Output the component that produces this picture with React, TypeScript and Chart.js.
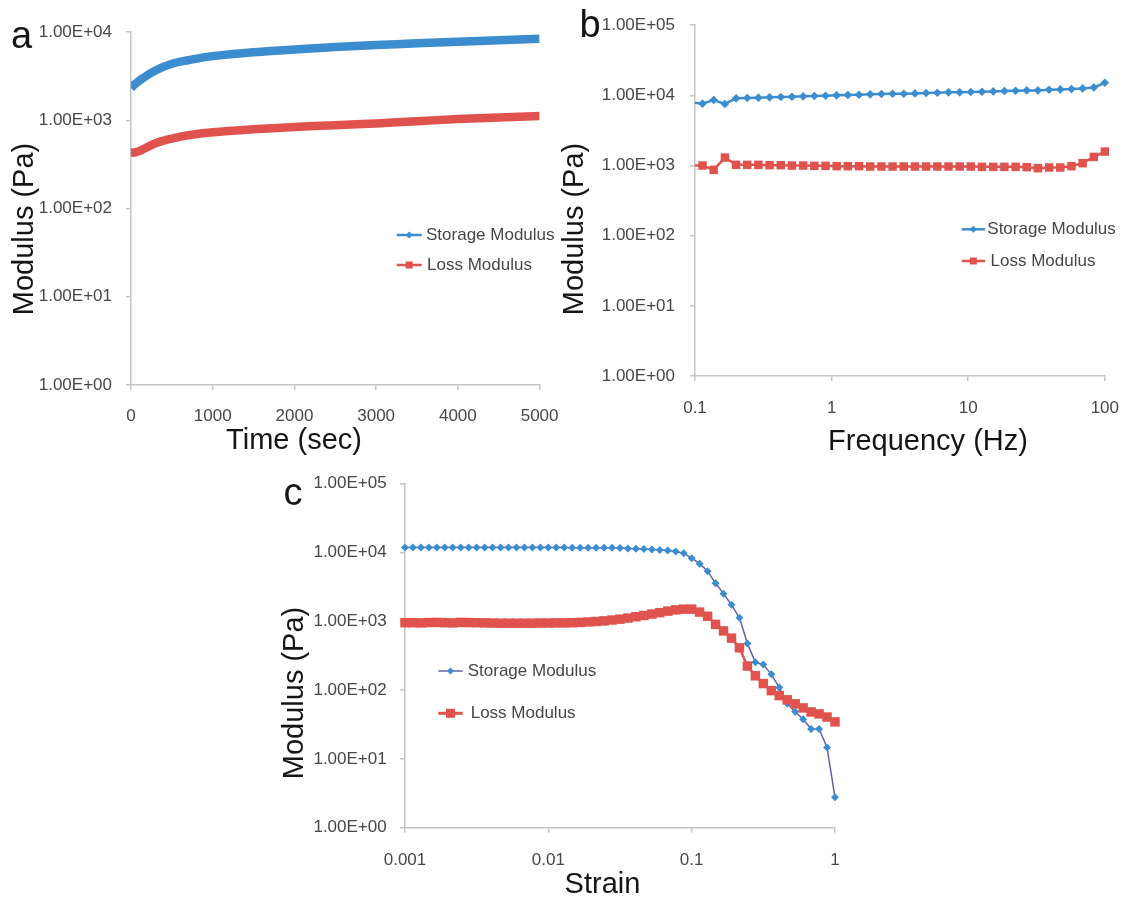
import React, { useEffect, useRef } from 'react';
import { Chart, registerables } from 'chart.js';

Chart.register(...registerables);

// ---------------- data ----------------
// (a) time sweep
const TIME_A = [0, 50, 150, 300, 500, 700, 1000, 1500, 2000, 2500, 3000, 3500, 4000, 4500, 5000];
const STORAGE_A = [2320, 2570, 3020, 3660, 4360, 4790, 5330, 5890, 6350, 6750, 7110, 7450, 7760, 8070, 8380];
const LOSS_A = [430, 432, 470, 550, 620, 675, 730, 790, 840, 880, 920, 975, 1030, 1075, 1120];
const X_TICKS_A = [0, 1000, 2000, 3000, 4000, 5000];
const X_LABELS_A = ['0', '1000', '2000', '3000', '4000', '5000'];
const Y_TICKS_A = [1, 10, 100, 1000, 10000];
const Y_LABELS_A = ['1.00E+00', '1.00E+01', '1.00E+02', '1.00E+03', '1.00E+04'];

// (b) frequency sweep
const FREQ_B = [0.1, 0.1135, 0.137, 0.1655, 0.1998, 0.2412, 0.2912, 0.3516, 0.4246, 0.5126, 0.6189, 0.7473, 0.9023, 1.089, 1.315, 1.588, 1.917, 2.315, 2.795, 3.375, 4.075, 4.92, 5.94, 7.172, 8.659, 10.45, 12.62, 15.24, 18.4, 22.22, 26.82, 32.38, 39.1, 47.21, 57.0, 68.82, 83.09, 100];
const STORAGE_B = [7870, 7620, 8590, 7540, 9070, 9180, 9270, 9370, 9470, 9570, 9680, 9790, 9890, 10000, 10110, 10220, 10330, 10440, 10560, 10560, 10670, 10790, 10910, 11030, 11030, 11150, 11270, 11390, 11520, 11640, 11770, 11770, 12030, 12160, 12290, 12560, 12980, 15110];
const LOSS_B = [1000, 1000, 868, 1298, 1022, 1022, 1022, 1011, 1011, 1000, 1000, 989, 989, 979, 979, 979, 968, 968, 968, 968, 968, 968, 968, 968, 968, 968, 957, 957, 957, 957, 947, 917, 937, 937, 979, 1079, 1326, 1580];
const X_TICKS_B = [0.1, 1, 10, 100];
const X_LABELS_B = ['0.1', '1', '10', '100'];

// (c) strain sweep
const STRAIN_C = [0.001, 0.001136, 0.001292, 0.001468, 0.001668, 0.001896, 0.002154, 0.002448, 0.002783, 0.003162, 0.003594, 0.004084, 0.004642, 0.005275, 0.005995, 0.006813, 0.007743, 0.008799, 0.01, 0.01136, 0.01292, 0.01468, 0.01668, 0.01896, 0.02154, 0.02448, 0.02783, 0.03162, 0.03594, 0.04084, 0.04642, 0.05275, 0.05995, 0.06813, 0.07743, 0.08799, 0.1, 0.1136, 0.1292, 0.1468, 0.1668, 0.1896, 0.2154, 0.2448, 0.2783, 0.3162, 0.3594, 0.4084, 0.4642, 0.5275, 0.5995, 0.6813, 0.7743, 0.8799, 1];
const STORAGE_C = [11800, 11800, 11800, 11800, 11800, 11800, 11800, 11800, 11800, 11800, 11800, 11800, 11800, 11800, 11800, 11800, 11800, 11800, 11800, 11800, 11800, 11700, 11700, 11700, 11700, 11700, 11700, 11550, 11400, 11300, 11150, 11000, 10800, 10650, 10300, 9680, 8220, 6840, 5320, 3560, 2510, 1730, 1122, 475, 253, 234, 169, 109, 63.5, 48.3, 37.6, 27.2, 27.2, 14.6, 2.76];
const LOSS_C = [950, 950, 945, 955, 960, 950, 945, 960, 955, 950, 945, 940, 935, 935, 935, 935, 935, 940, 940, 945, 945, 950, 960, 975, 990, 1010, 1040, 1070, 1110, 1160, 1210, 1270, 1330, 1400, 1460, 1496, 1496, 1355, 1178, 897, 722, 568, 410, 223, 161, 124, 98, 83, 72, 63, 55, 48, 45, 40.5, 34.4];
const X_TICKS_C = [0.001, 0.01, 0.1, 1];
const X_LABELS_C = ['0.001', '0.01', '0.1', '1'];

const Y_TICKS_BC = [1, 10, 100, 1000, 10000, 100000];
const Y_LABELS_BC = ['1.00E+00', '1.00E+01', '1.00E+02', '1.00E+03', '1.00E+04', '1.00E+05'];

const SERIES_NAMES = ['Storage Modulus', 'Loss Modulus'];

// ---------------- styles ----------------
const FONT = "'Liberation Sans', Arial, Helvetica, sans-serif";
const BLUE = '#3b8dd0';
const RED = '#e0524d';
const PURPLE = '#6163ad';
const AXIS_COLOR = '#c4c4c4';
const TICK_COLOR = '#474747';
const TITLE_COLOR = '#151515';

type Txt = { text: string; x: number; y: number; size: number; align?: CanvasTextAlign; baseline?: CanvasTextBaseline; rotate?: boolean };
type LegendItem = { label: string; y: number; x1: number; x2: number; tx: number; lineColor: string; lineWidth: number; markerColor: string; marker: 'diamond' | 'square'; size: number };

function makeOverlay(texts: Txt[], legend: LegendItem[]) {
  return {
    id: 'overlay',
    afterDraw(chart: any) {
      const ctx = chart.ctx as CanvasRenderingContext2D;
      ctx.save();
      texts.forEach((t) => {
        ctx.save();
        ctx.font = `${t.size}px ${FONT}`;
        ctx.fillStyle = TITLE_COLOR;
        ctx.textAlign = t.align || 'center';
        ctx.textBaseline = t.baseline || 'middle';
        ctx.translate(t.x, t.y);
        if (t.rotate) ctx.rotate(-Math.PI / 2);
        ctx.fillText(t.text, 0, 0);
        ctx.restore();
      });
      legend.forEach((it) => {
        ctx.strokeStyle = it.lineColor;
        ctx.lineWidth = it.lineWidth;
        ctx.beginPath();
        ctx.moveTo(it.x1, it.y);
        ctx.lineTo(it.x2, it.y);
        ctx.stroke();
        const cx = (it.x1 + it.x2) / 2;
        ctx.fillStyle = it.markerColor;
        ctx.beginPath();
        if (it.marker === 'diamond') {
          ctx.moveTo(cx - it.size, it.y);
          ctx.lineTo(cx, it.y - it.size);
          ctx.lineTo(cx + it.size, it.y);
          ctx.lineTo(cx, it.y + it.size);
          ctx.closePath();
        } else {
          ctx.rect(cx - it.size, it.y - it.size, it.size * 2, it.size * 2);
        }
        ctx.fill();
        ctx.font = `17px ${FONT}`;
        ctx.fillStyle = TICK_COLOR;
        ctx.textAlign = 'left';
        ctx.textBaseline = 'middle';
        ctx.fillText(it.label, it.tx, it.y);
      });
      ctx.restore();
    },
  };
}

function gridOpts() {
  return {
    grid: { drawOnChartArea: false, drawTicks: true, tickLength: 5, color: AXIS_COLOR, lineWidth: 1.5 },
    border: { display: true, color: AXIS_COLOR, width: 1.5 },
  };
}

function yScale(ticks: number[], labels: string[], width: number, pad: number) {
  return {
    type: 'logarithmic',
    position: 'left',
    min: ticks[0],
    max: ticks[ticks.length - 1],
    afterBuildTicks: (s: any) => { s.ticks = ticks.map((v) => ({ value: v })); },
    afterFit: (s: any) => { s.width = width; },
    ticks: { callback: (_v: any, i: number) => labels[i], font: { family: FONT, size: 17 }, color: TICK_COLOR, padding: pad, autoSkip: false, maxRotation: 0 },
    ...gridOpts(),
  };
}

function xScale(type: string, ticks: number[], labels: string[], height: number, pad: number) {
  return {
    type,
    position: 'bottom',
    min: ticks[0],
    max: ticks[ticks.length - 1],
    afterBuildTicks: (s: any) => { s.ticks = ticks.map((v) => ({ value: v })); },
    afterFit: (s: any) => { s.height = height; },
    ticks: { callback: (_v: any, i: number) => labels[i], font: { family: FONT, size: 17 }, color: TICK_COLOR, padding: pad, autoSkip: false, maxRotation: 0 },
    ...gridOpts(),
  };
}

function pts(xs: number[], ys: number[]) {
  return xs.map((x, i) => ({ x, y: ys[i] }));
}

function baseOptions(padding: any, scales: any) {
  return {
    animation: false,
    responsive: false,
    devicePixelRatio: 1,
    events: [],
    layout: { padding },
    scales,
    plugins: { legend: { display: false }, tooltip: { enabled: false } },
  };
}

function buildA(): any {
  return {
    type: 'line',
    data: {
      datasets: [
        { label: SERIES_NAMES[0], data: pts(TIME_A, STORAGE_A), borderColor: BLUE, borderWidth: 8.5, pointRadius: 0, tension: 0.4, order: 1 },
        { label: SERIES_NAMES[1], data: pts(TIME_A, LOSS_A), borderColor: RED, borderWidth: 8.5, pointRadius: 0, tension: 0.4, order: 0 },
      ],
    },
    options: baseOptions({ left: 0, top: 32, right: 30, bottom: 0 }, {
      x: xScale('linear', X_TICKS_A, X_LABELS_A, 75, 16.5),
      y: yScale(Y_TICKS_A, Y_LABELS_A, 131, 14),
    }),
    plugins: [makeOverlay(
      [
        { text: 'a', x: 11, y: 48, size: 38, align: 'left', baseline: 'alphabetic' },
        { text: 'Modulus (Pa)', x: 25, y: 229, size: 29, rotate: true },
        { text: 'Time (sec)', x: 294, y: 441, size: 29 },
      ],
      [
        { label: SERIES_NAMES[0], y: 235, x1: 396.7, x2: 421.7, tx: 426, lineColor: BLUE, lineWidth: 2.5, markerColor: BLUE, marker: 'diamond', size: 3.5 },
        { label: SERIES_NAMES[1], y: 265, x1: 396.7, x2: 421.7, tx: 427, lineColor: RED, lineWidth: 2.5, markerColor: RED, marker: 'square', size: 3.5 },
      ],
    )],
  };
}

function buildB(): any {
  const radiusDiamond = FREQ_B.map((_, i) => (i === 0 ? 0 : 4.3));
  const radiusSquare = FREQ_B.map((_, i) => (i === 0 ? 0 : 6));
  return {
    type: 'line',
    data: {
      datasets: [
        { label: SERIES_NAMES[0], data: pts(FREQ_B, STORAGE_B), borderColor: BLUE, borderWidth: 2.5, pointStyle: 'rectRot', pointRadius: radiusDiamond, pointBackgroundColor: BLUE, pointBorderWidth: 0, clip: false, order: 1 },
        { label: SERIES_NAMES[1], data: pts(FREQ_B, LOSS_B), borderColor: RED, borderWidth: 2.5, pointStyle: 'rect', pointRadius: radiusSquare, pointBackgroundColor: RED, pointBorderWidth: 0, clip: false, order: 0 },
      ],
    },
    options: baseOptions({ left: 0, top: 23, right: 22, bottom: 0 }, {
      x: xScale('logarithmic', X_TICKS_B, X_LABELS_B, 84, 17),
      y: yScale(Y_TICKS_BC, Y_LABELS_BC, 135, 15),
    }),
    plugins: [makeOverlay(
      [
        { text: 'b', x: 19.5, y: 36.7, size: 38, align: 'left', baseline: 'alphabetic' },
        { text: 'Modulus (Pa)', x: 15, y: 229, size: 29, rotate: true },
        { text: 'Frequency (Hz)', x: 368, y: 442, size: 29 },
      ],
      [
        { label: SERIES_NAMES[0], y: 229.3, x1: 401.7, x2: 425, tx: 427.3, lineColor: BLUE, lineWidth: 2.5, markerColor: BLUE, marker: 'diamond', size: 3.5 },
        { label: SERIES_NAMES[1], y: 261, x1: 401.7, x2: 425, tx: 430.5, lineColor: RED, lineWidth: 2.5, markerColor: RED, marker: 'square', size: 3.5 },
      ],
    )],
  };
}

function buildC(): any {
  return {
    type: 'line',
    data: {
      datasets: [
        { label: SERIES_NAMES[0], data: pts(STRAIN_C, STORAGE_C), borderColor: PURPLE, borderWidth: 1.5, pointStyle: 'rectRot', pointRadius: 4, pointBackgroundColor: BLUE, pointBorderWidth: 0, clip: false, order: 1 },
        { label: SERIES_NAMES[1], data: pts(STRAIN_C, LOSS_C), borderColor: RED, borderWidth: 2.5, pointStyle: 'rect', pointRadius: 6.7, pointBackgroundColor: RED, pointBorderWidth: 0, clip: false, order: 0 },
      ],
    },
    options: baseOptions({ left: 0, top: 15, right: 45, bottom: 0 }, {
      x: xScale('logarithmic', X_TICKS_C, X_LABELS_C, 74.3, 17),
      y: yScale(Y_TICKS_BC, Y_LABELS_BC, 125, 13.3),
    }),
    plugins: [makeOverlay(
      [
        { text: 'c', x: 3.5, y: 45, size: 38, align: 'left', baseline: 'alphabetic' },
        { text: 'Modulus (Pa)', x: 15, y: 233, size: 29, rotate: true },
        { text: 'Strain', x: 322.5, y: 425, size: 29 },
      ],
      [
        { label: SERIES_NAMES[0], y: 211, x1: 158.3, x2: 182.7, tx: 187.7, lineColor: PURPLE, lineWidth: 1.5, markerColor: BLUE, marker: 'diamond', size: 3.5 },
        { label: SERIES_NAMES[1], y: 253.3, x1: 158.3, x2: 182.7, tx: 190.7, lineColor: RED, lineWidth: 3, markerColor: RED, marker: 'square', size: 4.5 },
      ],
    )],
  };
}

function ChartCanvas({ left, top, width, height, build }: { left: number; top: number; width: number; height: number; build: () => any }) {
  const ref = useRef<HTMLCanvasElement>(null);
  useEffect(() => {
    if (!ref.current) return;
    const chart = new Chart(ref.current, build());
    return () => chart.destroy();
  }, []);
  return (
    <canvas
      ref={ref}
      width={width}
      height={height}
      style={{ position: 'absolute', left, top, width, height, display: 'block' }}
    />
  );
}

export default function App() {
  return (
    <div style={{ position: 'absolute', left: 0, top: 0, width: 1136, height: 902, background: '#ffffff', overflow: 'hidden' }}>
      <ChartCanvas left={0} top={0} width={575} height={460} build={buildA} />
      <ChartCanvas left={560} top={0} width={576} height={460} build={buildB} />
      <ChartCanvas left={280} top={460} width={600} height={442} build={buildC} />
    </div>
  );
}
